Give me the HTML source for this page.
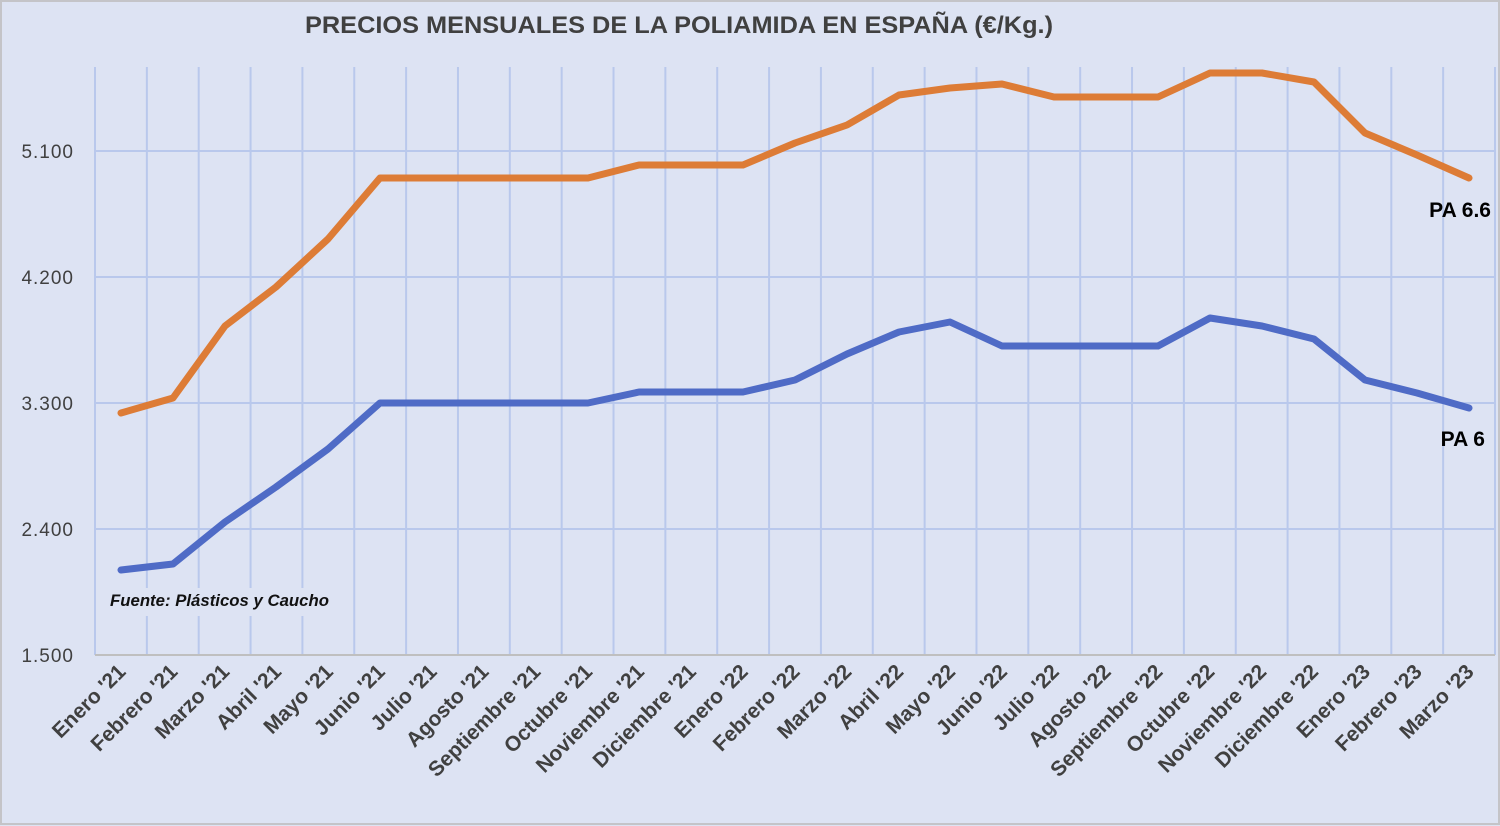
<!DOCTYPE html>
<html><head><meta charset="utf-8"><style>
html,body{margin:0;padding:0;background:#dde3f3;}
svg{display:block;}
text{font-family:"Liberation Sans",sans-serif;}
</style></head><body>
<svg width="1500" height="826" viewBox="0 0 1500 826" xmlns="http://www.w3.org/2000/svg">
<rect x="0" y="0" width="1500" height="826" fill="#dde3f3"/>
<rect x="1" y="1" width="1498" height="823" fill="none" stroke="#c4c4c8" stroke-width="2"/>
<text x="305" y="33" font-size="24" font-weight="bold" fill="#404040" textLength="748" lengthAdjust="spacingAndGlyphs">PRECIOS MENSUALES DE LA POLIAMIDA EN ESPAÑA (€/Kg.)</text>
<g stroke="#b9c8ec" stroke-width="2" id="grid"></g>
<line x1="95" y1="655" x2="1495" y2="655" stroke="#bfbfbf" stroke-width="2"/>
<g font-size="19" fill="#404040" text-anchor="end" letter-spacing="1">
<text x="74" y="158">5.100</text>
<text x="74" y="284">4.200</text>
<text x="74" y="410">3.300</text>
<text x="74" y="536">2.400</text>
<text x="74" y="662">1.500</text>
</g>
<rect x="106" y="588" width="226" height="28" fill="#dde3f3"/>
<text x="110" y="606" font-size="17" font-weight="bold" font-style="italic" fill="#111" textLength="219" lengthAdjust="spacingAndGlyphs">Fuente: Plásticos y Caucho</text>
<polyline fill="none" stroke="#dd7c36" stroke-width="7" stroke-linecap="round" stroke-linejoin="round" points="121,413 173,398 225,326 276,287 328,239 380,178 432,178 484,178 536,178 588,178 639,165 691,165 743,165 795,143 847,125 899,95 950,88 1002,84 1054,97 1106,97 1158,97 1210,73 1262,73 1314,82 1365,133 1417,155 1469,178"/>
<polyline fill="none" stroke="#4f6bc6" stroke-width="7" stroke-linecap="round" stroke-linejoin="round" points="121,570 173,564 225,522 276,487 328,449 380,403 432,403 484,403 536,403 588,403 639,392 691,392 743,392 795,380 847,354 899,332 950,322 1002,346 1054,346 1106,346 1158,346 1210,318 1262,326 1314,339 1365,380 1417,393 1469,408"/>
<text x="1491" y="217" font-size="21" font-weight="bold" fill="#000" text-anchor="end">PA 6.6</text>
<text x="1485" y="446" font-size="21" font-weight="bold" fill="#000" text-anchor="end">PA 6</text>
<g id="labels" font-size="21" font-weight="bold" fill="#404040" text-anchor="end"></g>
</svg>
<script>
var ns="http://www.w3.org/2000/svg";
var grid=document.getElementById("grid");
function ln(x1,y1,x2,y2){var l=document.createElementNS(ns,"line");l.setAttribute("x1",x1);l.setAttribute("y1",y1);l.setAttribute("x2",x2);l.setAttribute("y2",y2);grid.appendChild(l);}
[151,277,403,529].forEach(function(y){ln(95,y,1495,y);});
for(var i=0;i<=27;i++){var x=95+i*1400/27;ln(x,67,x,655);}
var names=["Enero '21","Febrero '21","Marzo '21","Abril '21","Mayo '21","Junio '21","Julio '21","Agosto '21","Septiembre '21","Octubre '21","Noviembre '21","Diciembre '21","Enero '22","Febrero '22","Marzo '22","Abril '22","Mayo '22","Junio '22","Julio '22","Agosto '22","Septiembre '22","Octubre '22","Noviembre '22","Diciembre '22","Enero '23","Febrero '23","Marzo '23"];
var g=document.getElementById("labels");
names.forEach(function(n,i){var x=120.9+i*1400/27+6,y=673;var t=document.createElementNS(ns,"text");t.setAttribute("x",x);t.setAttribute("y",y);t.setAttribute("transform","rotate(-45 "+x+" "+y+")");t.textContent=n;g.appendChild(t);});
</script>
</body></html>
